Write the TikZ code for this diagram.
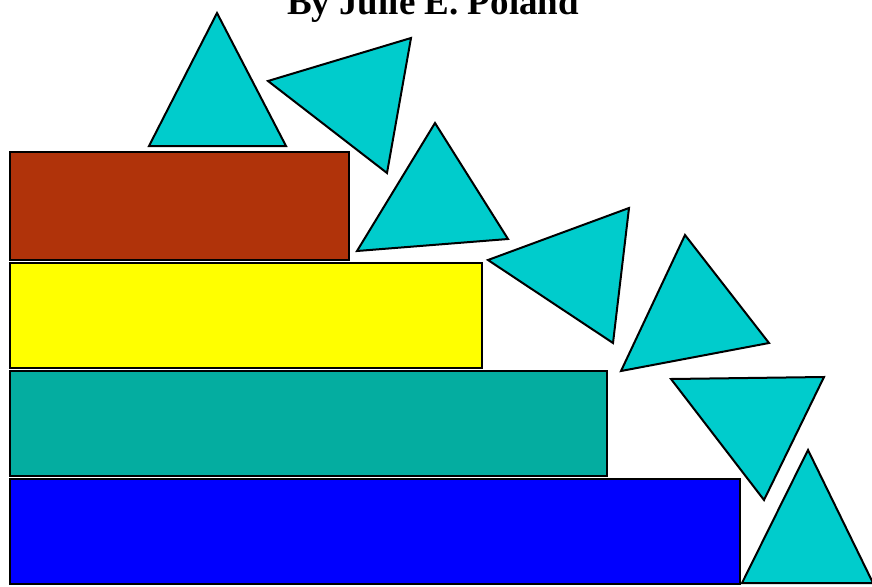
\documentclass[tikz,border=0pt]{standalone}
\usepackage{fontspec}
\setmainfont{Liberation Serif}
\definecolor{tricyan}{RGB}{0,204,204}
\definecolor{brickred}{RGB}{176,51,10}
\definecolor{layeryellow}{RGB}{255,255,0}
\definecolor{layerteal}{RGB}{4,173,160}
\definecolor{layerblue}{RGB}{0,0,255}
\tikzset{
  layer/.style={draw=black, line width=2pt},
  tri/.style={draw=black, fill=tricyan, line width=2pt, line join=miter},
  titletext/.style={font=\bfseries\fontsize{37}{40}\selectfont, inner sep=0pt, anchor=base}
}
\begin{document}
\begin{tikzpicture}[x=1pt, y=-1pt]
\useasboundingbox (0,0) rectangle (872,586);
\fill[white] (0,0) rectangle (872,586);
\node[titletext] (title) at (433,15) {By Julie E. Poland};
% layers
\draw[layer, fill=layerblue] (10,479) rectangle (740,584);
\draw[layer, fill=layerteal] (10,371) rectangle (607,476);
\draw[layer, fill=layeryellow] (10,263) rectangle (482,368);
\draw[layer, fill=brickred] (10,152) rectangle (349,260);
% triangles
\draw[tri] (217,13) -- (286,146) -- (149,146) -- cycle;
\draw[tri] (268,81) -- (411,38) -- (387,173) -- cycle;
\draw[tri] (435,123) -- (508,239) -- (357,251) -- cycle;
\draw[tri] (488,260) -- (629,208) -- (613,343) -- cycle;
\draw[tri] (685,235) -- (769,343) -- (621,371) -- cycle;
\draw[tri] (671,379) -- (824,377) -- (764,500) -- cycle;
\draw[tri] (808,450) -- (873,583) -- (742,583) -- cycle;
\end{tikzpicture}
\end{document}
